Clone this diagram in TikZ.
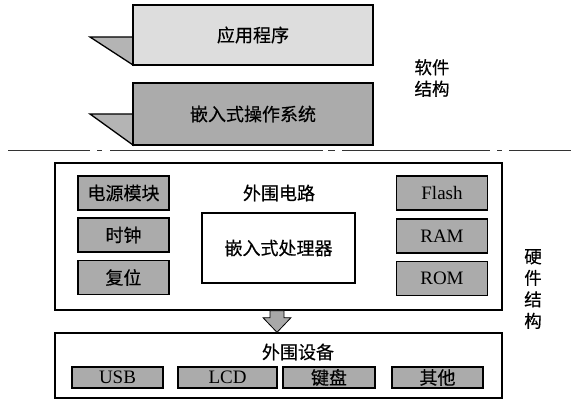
\documentclass[tikz,border=0pt]{standalone}
\usepackage{fontspec}
\setmainfont{Liberation Serif}
\newfontfamily\cjk{Noto Sans CJK SC}[FakeBold=0.4]
\usetikzlibrary{calc}
\definecolor{lightfill}{HTML}{DDDDDD}
\definecolor{darkfill}{HTML}{ABABAB}
\definecolor{trifill}{HTML}{B4B4B4}
\definecolor{arrowfill}{HTML}{A8A8A8}
\tikzset{
  base/.style={draw=black, line width=1.3pt, inner sep=0pt, anchor=center, font=\cjk\fontsize{18}{20}\selectfont},
  lightbox/.style={base, fill=lightfill},
  darkbox/.style={base, fill=darkfill},
  whitebox/.style={base, fill=white},
  smallbox/.style={base, fill=darkfill, minimum width=91pt, minimum height=34pt},
  tinybox/.style={base, fill=darkfill, minimum height=21pt},
  latin/.style={font=\fontsize{19}{20}\selectfont},
  label/.style={inner sep=0pt, font=\cjk\fontsize{18}{20}\selectfont},
  side/.style={inner sep=0pt, align=center, font=\cjk\fontsize{17.5}{21.5}\selectfont},
  sep/.style={line width=1pt, black!80},
}
\begin{document}
\begin{tikzpicture}[x=1pt, y=-1pt]
\useasboundingbox (0,0) rectangle (571,401);

% software part
\fill[trifill, draw=black, line width=1.3pt, line join=miter] (90,37) -- (133,37) -- (133,65) -- cycle;
\node[lightbox, minimum width=240pt, minimum height=60pt] (app) at (253,35) {应用程序};
\fill[trifill, draw=black, line width=1.3pt] (90,114) -- (133,114) -- (133,145) -- cycle;
\node[darkbox, minimum width=240pt, minimum height=62pt] (os) at (253,114) {嵌入式操作系统};
\node[side] (sw) at (432,78) {软件\\结构};

% separator
\draw[sep] (8,151) -- (90,151) (97,151) -- (102,151) (110,151) -- (323,151)
  (328,151) -- (335,151) (342,151) -- (490,151) (497,151) -- (502,151) (509,151) -- (571,151);

% hardware part
\node[whitebox, minimum width=447pt, minimum height=147pt] (hw) at (278.5,236.5) {};
\node[label] (hwl) at (279,193) {外围电路};
\node[whitebox, minimum width=153pt, minimum height=70pt] (cpu) at (278.5,248) {嵌入式处理器};
\node[smallbox] (pwr) at (123.5,193) {电源模块};
\node[smallbox] (clk) at (123.5,235) {时钟};
\node[smallbox] (rst) at (123.5,277.5) {复位};
\node[smallbox, latin] (flash) at (442,193) {Flash};
\node[smallbox, latin] (ram) at (442,236) {RAM};
\node[smallbox, latin] (rom) at (442,278.5) {ROM};
\node[side] (hws) at (533,289) {硬\\件\\结\\构};

% peripherals
\node[whitebox, minimum width=447pt, minimum height=65pt] (per) at (278.5,365.5) {};
\node[label] (perl) at (298,352) {外围设备};
\node[tinybox, latin, minimum width=91pt] (usb) at (117.5,377.5) {USB};
\node[tinybox, latin, minimum width=99pt] (lcd) at (227.5,377.5) {LCD};
\node[tinybox, minimum width=92pt] (kbd) at (329,377.5) {键盘};
\node[tinybox, minimum width=91pt] (oth) at (437.5,377.5) {其他};

% block arrow
\coordinate (at) at ($(hw.south)+(-1.5,0)$);
\coordinate (ab) at ($(per.north)+(-1.5,0)$);
\filldraw[fill=arrowfill, draw=black, line width=0.8pt]
  ($(at)+(-7,0)$) -- ($(at)+(7,0)$) -- ($(at)+(7,7)$) -- ($(at)+(14,7)$) -- (ab)
  -- ($(at)+(-14,7)$) -- ($(at)+(-7,7)$) -- cycle;
\end{tikzpicture}
\end{document}
